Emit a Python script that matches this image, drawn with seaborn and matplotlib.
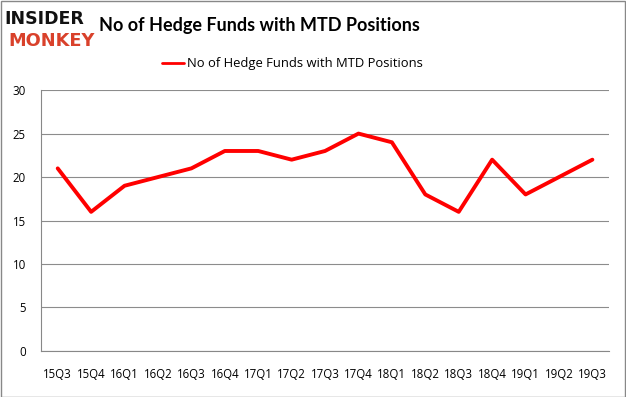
import matplotlib
matplotlib.use('Agg')
import matplotlib.pyplot as plt
import seaborn as sns
import pandas as pd
from matplotlib.patches import Rectangle

quarters = ['15Q3', '15Q4', '16Q1', '16Q2', '16Q3', '16Q4', '17Q1', '17Q2', '17Q3',
            '17Q4', '18Q1', '18Q2', '18Q3', '18Q4', '19Q1', '19Q2', '19Q3']
hedge_funds = [21, 16, 19, 20, 21, 23, 23, 22, 23, 25, 24, 18, 16, 22, 18, 20, 22]
y_ticks = [0, 5, 10, 15, 20, 25, 30]
series_name = 'No of Hedge Funds with MTD Positions'

df = pd.DataFrame({'quarter': quarters, 'funds': hedge_funds})
df['pos'] = range(len(df))

sns.set_style('white')
plt.rcParams['font.family'] = ['Open Sans', 'DejaVu Sans']
plt.rcParams['text.color'] = 'black'

fig = plt.figure(figsize=(6.26, 3.97), dpi=100)
ax = fig.add_axes([0.0655, 0.116, 0.9075, 0.657])

sns.lineplot(data=df, x='pos', y='funds', color='#ff0000', linewidth=2.8, ax=ax)

ax.set_xlim(-0.5, len(quarters) - 0.5)
ax.set_ylim(0, 30)
ax.set_yticks(y_ticks)
ax.set_yticklabels([str(v) for v in y_ticks], fontsize=8.3)
ax.set_xticks(range(len(quarters)))
ax.set_xticklabels(quarters, fontsize=8.3)
ax.set_xticks([i - 0.5 for i in range(len(quarters) + 1)], minor=True)
ax.tick_params(axis='x', which='major', length=0, pad=12, labelcolor='black')
ax.tick_params(axis='x', which='minor', length=4, color='#888888', direction='out')
ax.tick_params(axis='y', length=4, color='#888888', direction='out', pad=7,
               labelcolor='black')
ax.yaxis.grid(True, color='#8c8c8c', linewidth=0.8)
ax.set_xlabel('')
ax.set_ylabel('')
for side in ['top', 'right']:
    ax.spines[side].set_visible(False)
for side in ['left', 'bottom']:
    ax.spines[side].set_color('#888888')
    ax.spines[side].set_linewidth(0.8)

# legend
fig.lines.append(plt.Line2D([162 / 626, 184 / 626], [1 - 63 / 397, 1 - 63 / 397],
                            color='#ff0000', linewidth=2, transform=fig.transFigure))
fig.text(187 / 626, 1 - 63 / 397, series_name, fontsize=9.4, va='center', ha='left')

# title and logo
fig.text(99 / 626, 1 - 26 / 397, series_name, fontsize=13, fontweight='bold',
         va='center', ha='left', family=['Lato', 'Open Sans'])
fig.text(4 / 626, 1 - 19 / 397, 'INSIDER', fontsize=12.5, fontweight='bold',
         color='#111111', va='center', ha='left', family='DejaVu Sans')
fig.text(8 / 626, 1 - 41 / 397, 'MONKEY', fontsize=12.8, fontweight='bold',
         color='#d9412b', va='center', ha='left', family='DejaVu Sans')

fig.patches.append(Rectangle((0.5 / 626, 0.5 / 397), 1 - 1.5 / 626, 1 - 1.5 / 397,
                             transform=fig.transFigure, fill=False,
                             edgecolor='#888888', linewidth=1))

fig.savefig('out.png', dpi=100)
